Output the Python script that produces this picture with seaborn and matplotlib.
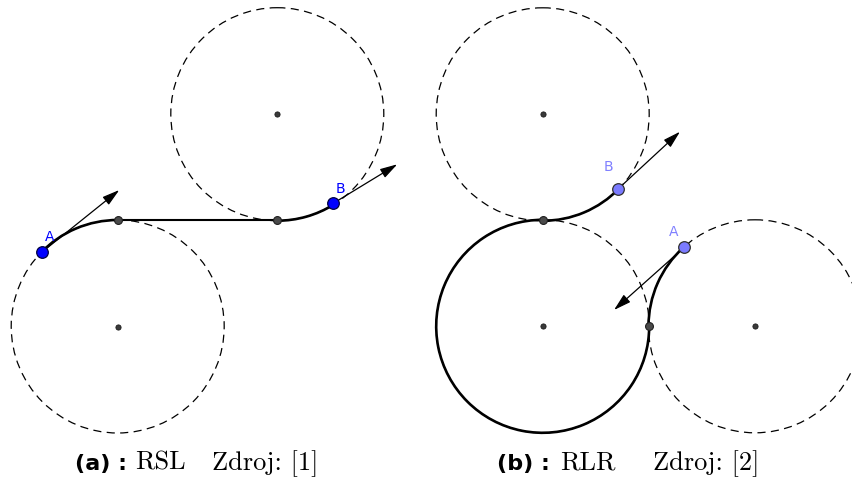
import numpy as np
import pandas as pd
import matplotlib
matplotlib.use("Agg")
import matplotlib.pyplot as plt
from matplotlib.patches import Arc, Circle
import seaborn as sns

# ---- geometry (canvas units, y grows downward) ----
R = 106.5

# (a) RSL
a_centers_x = [117.7, 277.3]
a_centers_y = [326.5, 114.2]
a_tangent_x = [117.7, 277.3]
a_tangent_y = [220.0, 220.0]
a_arcs = [  # (cx, cy, theta1, theta2)
    (117.7, 326.5, 223.9, 270.0),
    (277.3, 114.2, 58.3, 90.0),
]
a_start = (41.7, 252.3)
a_end = (333.3, 203.3)
a_start_tip = (119.3, 190.0)
a_end_tip = (397.3, 164.3)

# (b) RLR
b_centers_x = [542.7, 542.7, 755.0]
b_centers_y = [114.3, 326.3, 326.3]
b_tangent_x = [542.7, 649.3]
b_tangent_y = [220.0, 326.3]
b_arcs = [
    (542.7, 326.3, 0.0, 270.0),
    (542.7, 114.3, 44.2, 90.0),
    (755.0, 326.3, 180.0, 227.7),
]
b_start = (684.3, 247.3)
b_end = (617.7, 189.3)
b_start_tip = (614.0, 310.0)
b_end_tip = (680.0, 131.7)

sns.set_theme(style="white")
plt.rcParams["font.family"] = ["DejaVu Sans"]
plt.rcParams["text.color"] = "black"

fig = plt.figure(figsize=(8.53, 4.84), dpi=100)
ax = fig.add_axes([0, 0, 1, 1])
ax.set_xlim(0, 853)
ax.set_ylim(484, 0)
ax.axis("off")

DASH = (0, (6.5, 4.3))
PATH_LW = 1.9


def dashed_circles(xs, ys):
    for cx, cy in zip(xs, ys):
        ax.add_patch(Circle((cx, cy), R, fill=False, ec="black",
                            lw=0.9, ls=DASH, zorder=1))


def arcs(specs):
    for cx, cy, t1, t2 in specs:
        ax.add_patch(Arc((cx, cy), 2 * R, 2 * R, theta1=t1, theta2=t2,
                         ec="black", lw=PATH_LW, zorder=3))


def heading(p, tip):
    ax.annotate("", xy=tip, xytext=p,
                arrowprops=dict(arrowstyle="-|>,head_length=1.05,head_width=0.3",
                                mutation_scale=10, lw=0.9, color="black",
                                shrinkA=0, shrinkB=0),
                zorder=4)


dashed_circles(a_centers_x, a_centers_y)
dashed_circles(b_centers_x, b_centers_y)
arcs(a_arcs)
arcs(b_arcs)

# straight segment of RSL
seg = pd.DataFrame({"x": a_tangent_x, "y": a_tangent_y})
sns.lineplot(data=seg, x="x", y="y", sort=False, color="black",
             lw=1.5, ax=ax, zorder=3)

heading(a_start, a_start_tip)
heading(a_end, a_end_tip)
heading(b_start, b_start_tip)
heading(b_end, b_end_tip)

# centre and tangent points
sns.scatterplot(x=a_centers_x + b_centers_x, y=a_centers_y + b_centers_y,
                s=14, color="#3a3a3a", edgecolor="#1a1a1a", linewidth=0.6,
                ax=ax, zorder=5)
sns.scatterplot(x=a_tangent_x + b_tangent_x, y=a_tangent_y + b_tangent_y,
                s=32, color="#4a4a4a", edgecolor="#1f1f1f", linewidth=0.8,
                ax=ax, zorder=5)

# start / end configurations
sns.scatterplot(x=[a_start[0], a_end[0]], y=[a_start[1], a_end[1]],
                s=70, color="#0000ff", edgecolor="#000040", linewidth=0.9,
                ax=ax, zorder=6)
sns.scatterplot(x=[b_start[0], b_end[0]], y=[b_start[1], b_end[1]],
                s=70, color="#7b7bff", edgecolor="#303030", linewidth=0.9,
                ax=ax, zorder=6)

lbl = dict(fontsize=10, ha="center", va="center", zorder=7)
ax.text(50.0, 237.0, "A", color="#0000ff", **lbl)
ax.text(340.7, 188.7, "B", color="#0000ff", **lbl)
ax.text(673.7, 232.3, "A", color="#8080ff", **lbl)
ax.text(608.3, 166.7, "B", color="#8080ff", **lbl)

# captions
base_y = 470
cap_bold = dict(fontsize=16, fontweight="bold", ha="left", va="baseline",
                color="black", family=["DejaVu Sans"])
cap_rm = dict(fontsize=19, ha="left", va="baseline", color="black",
              family=["cmr10"])
ax.text(75, base_y, "(a) :", **cap_bold)
ax.text(135, base_y, "RSL", **cap_rm)
ax.text(212, base_y, "Zdroj: [1]", **cap_rm)
ax.text(497, base_y, "(b) :", **cap_bold)
ax.text(560, base_y, "RLR", **cap_rm)
ax.text(653, base_y, "Zdroj: [2]", **cap_rm)

fig.savefig("out.png", dpi=100)
